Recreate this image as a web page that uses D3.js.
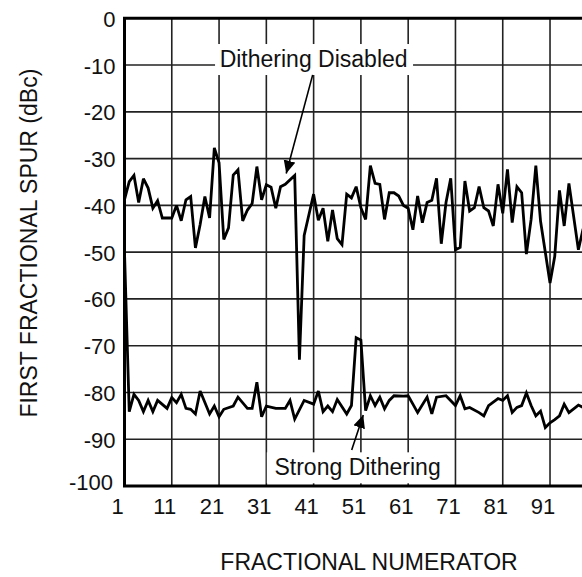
<!DOCTYPE html>
<html>
<head>
<meta charset="utf-8">
<script src="https://cdn.jsdelivr.net/npm/d3@7"></script>
<style>
  html, body { margin: 0; padding: 0; background: #fff; }
  svg { display: block; }
  text { font-family: "Liberation Sans", Arial, Helvetica, sans-serif; fill: #111; }
</style>
</head>
<body>
<svg id="chart" width="582" height="577"></svg>
<script>
// ---- data ----
const xTickValues = [1, 11, 21, 31, 41, 51, 61, 71, 81, 91];
const yTickValues = [0, -10, -20, -30, -40, -50, -60, -70, -80, -90, -100];

const disabledX = [1,2,3,4,5,6,7,8,9,10,11,12,13,14,15,16,17,18,19,20,21,22,23,24,25,26,27,28,29,30,31,32,33,34,35,37,38,39,40,41,42,43,44,45,46,47,48,49,50,51,52,53,54,55,56,57,58,59,60,61,62,63,64,65,66,67,68,69,70,71,72,73,74,75,76,77,78,79,80,81,82,83,84,85,86,87,88,89,91,92,93,94,95,97,98];
const disabledY = [-38.8,-34.9,-33.6,-39.4,-34.3,-36.3,-40.6,-39,-42.7,-42.7,-42.7,-40,-43.3,-38.8,-38.1,-49.1,-44.1,-38.1,-42.7,-27.7,-30.9,-47.3,-44.8,-33.5,-32.4,-43.3,-41,-39.6,-31.7,-38.8,-35.6,-36.1,-40.6,-36,-35.5,-33.6,-73,-46.4,-42,-37.6,-43.2,-40.6,-47.7,-41,-47.1,-48.4,-37.6,-38.4,-36,-40.5,-43,-31.5,-35.3,-35.5,-43,-37.3,-37.3,-38,-40,-40.6,-45.2,-38,-43.7,-39.4,-38.9,-34.2,-48.2,-39.4,-34.2,-49.5,-49,-34.8,-41.2,-40.5,-36,-40.5,-41.2,-44.4,-35.5,-41.7,-32.3,-43.7,-36,-37.3,-50.4,-43,-31.5,-43.4,-56.6,-50.9,-36.8,-44.4,-35.3,-49.5,-45];

const strongX = [1,2,3,4,5,6,7,8,10,11,12,13,14,15,16,17,19,20,21,22,24,25,27,28,29,30,31,33,35,36,37,39,41,42,43,44,45,46,48,49,50,51,52,53,54,55,56,57,58,60,61,62,63,65,66,67,69,71,72,73,74,76,77,78,80,81,82,83,84,85,86,87,88,89,90,91,92,93,94,95,97,98];
const strongY = [-50,-84.1,-80.4,-81.7,-84.1,-81.7,-84.1,-81.7,-83.4,-81.1,-82.2,-80.4,-83.4,-83.6,-84.6,-79.7,-84.6,-82.9,-85.2,-83.6,-82.9,-81,-83.4,-83.4,-77.8,-85.2,-82.9,-83.4,-83.4,-81.7,-85.7,-81.7,-82.5,-79.7,-84.1,-82.9,-84.1,-81.5,-84.6,-82.8,-68.3,-68.8,-83.9,-80.7,-82.8,-81,-83.5,-81.7,-80.7,-80.8,-80.7,-82.5,-84.3,-81,-84.6,-81,-80.7,-82.8,-80.7,-83.5,-83.2,-84.3,-85,-82.8,-81.3,-81.7,-80.7,-84.3,-83.2,-82.8,-80.1,-82.8,-85,-84,-87.5,-86.5,-85.8,-85,-82.5,-84.3,-82.7,-83.2];

const seriesNames = ["Dithering Disabled", "Strong Dithering"];
const xTitle = "FRACTIONAL NUMERATOR";
const yTitle = "FIRST FRACTIONAL SPUR (dBc)";

// ---- layout ----
const W = 582, H = 577;
const plotLeft = 124.5, plotTop = 18.3, plotBottom = 486;
const unit = 4.728;
const svg = d3.select("#chart");

const x = d3.scaleLinear().domain([1, 100]).range([plotLeft, plotLeft + 99 * unit]);
const y = d3.scaleLinear().domain([-100, 0]).range([plotBottom, plotTop]);

// white background
svg.append("rect").attr("width", W).attr("height", H).attr("fill", "#fff");

// grid
const grid = svg.append("g").attr("stroke", "#222").attr("stroke-width", 1.6);
grid.selectAll("line.v").data(xTickValues.slice(1)).join("line").attr("class", "v")
  .attr("x1", d => x(d)).attr("x2", d => x(d))
  .attr("y1", plotTop).attr("y2", plotBottom);
grid.selectAll("line.h").data(yTickValues.slice(1, -1)).join("line").attr("class", "h")
  .attr("x1", plotLeft).attr("x2", W)
  .attr("y1", d => y(d)).attr("y2", d => y(d));

// annotation boxes (white, hide gridlines behind labels)
const ann = svg.append("g");
ann.append("rect")
  .attr("x", x(20.15)).attr("y", y(-5.5))
  .attr("width", 198).attr("height", 31).attr("fill", "#fff");
ann.append("rect")
  .attr("x", x(31.1)).attr("y", y(-92.8))
  .attr("width", 180).attr("height", 31).attr("fill", "#fff");

// frame: top, left, bottom
const frame = svg.append("g").attr("stroke", "#000").attr("stroke-width", 3).attr("fill", "none");
frame.append("path")
  .attr("d", `M${W},${y(0)}H${x(1)}V${y(-100)}H${W}`)
  .attr("stroke-linecap", "square");

// lines
const defs = svg.append("defs");
defs.append("clipPath").attr("id", "clip")
  .append("rect").attr("x", plotLeft).attr("y", 0).attr("width", W - plotLeft).attr("height", H);
const line = d3.line().x(d => x(d[0])).y(d => y(d[1]));
const disabled = disabledX.map((v, i) => [v, disabledY[i]]);
const strong = strongX.map((v, i) => [v, strongY[i]]);
const lines = svg.append("g").attr("clip-path", "url(#clip)")
  .attr("fill", "none").attr("stroke", "#000").attr("stroke-width", 2.8)
  .attr("stroke-linejoin", "miter").attr("stroke-miterlimit", 3);
lines.append("path").attr("d", line(disabled));
lines.append("path").attr("d", line(strong));

// axis tick labels
const yl = svg.append("g").attr("font-size", 22).attr("text-anchor", "end");
yl.selectAll("text").data(yTickValues).join("text")
  .attr("x", d => d === -100 ? plotLeft - 11.5 : plotLeft - 9)
  .attr("y", d => d === -100 ? y(d) + 4 : y(d) + 8.5)
  .text(d => d);
const xl = svg.append("g").attr("font-size", 22).attr("text-anchor", "middle");
xl.selectAll("text").data(xTickValues).join("text")
  .attr("x", d => x(d) - 7).attr("y", plotBottom + 28)
  .text(d => d);

// axis titles
svg.append("text").attr("font-size", 23).attr("text-anchor", "middle")
  .attr("x", 369).attr("y", 570).text(xTitle);
svg.append("text").attr("font-size", 23).attr("text-anchor", "middle")
  .attr("transform", `translate(37,${(plotTop + plotBottom) / 2 - 9}) rotate(-90)`)
  .text(yTitle);

// annotations
defs.append("marker").attr("id", "arrow")
  .attr("markerUnits", "userSpaceOnUse")
  .attr("markerWidth", 14).attr("markerHeight", 14)
  .attr("refX", 13).attr("refY", 6).attr("orient", "auto")
  .append("path").attr("d", "M0,0L13,6L0,12Z").attr("fill", "#000");

ann.append("text").attr("font-size", 23).attr("text-anchor", "middle")
  .attr("x", x(41)).attr("y", y(-10.35)).text(seriesNames[0]);
ann.append("text").attr("font-size", 23).attr("text-anchor", "middle")
  .attr("x", x(50.3)).attr("y", y(-97.6)).text(seriesNames[1]);

ann.append("line")
  .attr("x1", x(40.8)).attr("y1", y(-12.1))
  .attr("x2", x(35.2)).attr("y2", y(-33.2))
  .attr("stroke", "#000").attr("stroke-width", 1.6).attr("marker-end", "url(#arrow)");
ann.append("line")
  .attr("x1", x(49.05)).attr("y1", y(-92.3))
  .attr("x2", x(51.5)).attr("y2", y(-84.8))
  .attr("stroke", "#000").attr("stroke-width", 1.6).attr("marker-end", "url(#arrow)");
</script>
</body>
</html>
